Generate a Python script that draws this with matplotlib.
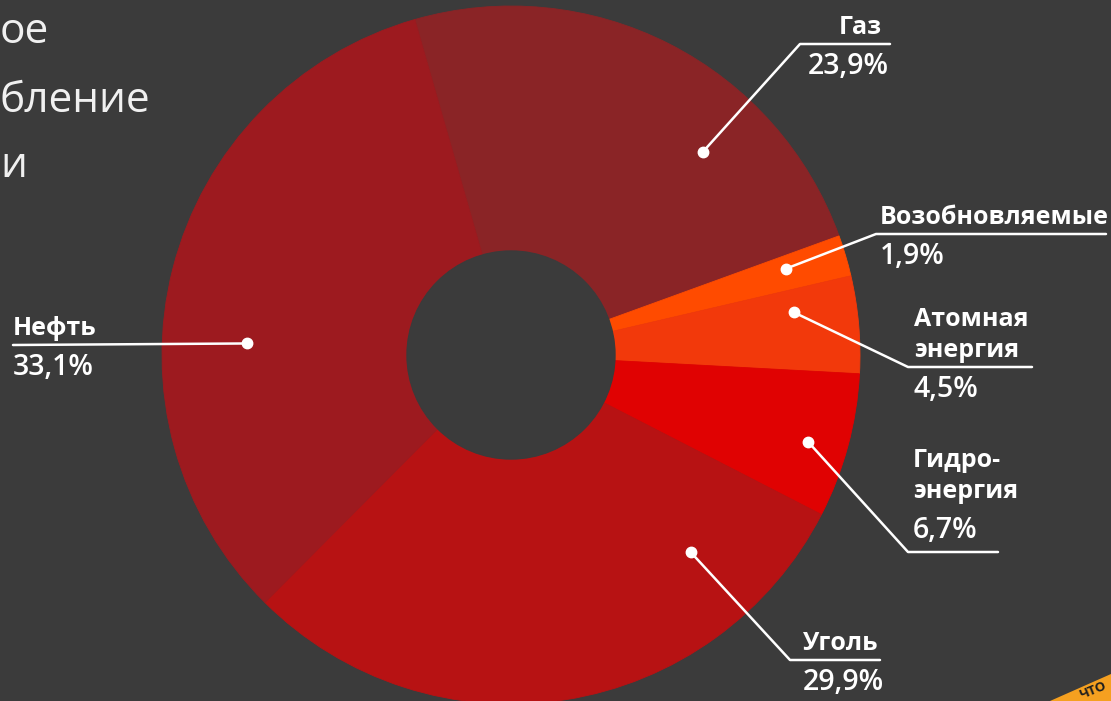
import numpy as np
import matplotlib.pyplot as plt
from matplotlib.patches import Circle, Polygon

# data (clockwise from the top)
categories = [['Газ'], ['Возобновляемые'], ['Атомная', 'энергия'], ['Гидро-', 'энергия'], ['Уголь'], ['Нефть']]
shares = [23.9, 1.9, 4.5, 6.7, 29.9, 33.1]
share_labels = ['23,9%', '1,9%', '4,5%', '6,7%', '29,9%', '33,1%']
colors = ['#8a2426', '#ff4b00', '#f2390b', '#e00202', '#b71213', '#9d1a1f']
title_parts = ['ое', 'бление', 'и']   # what is left of the title at the left edge

W, H = 1111, 701
BG = '#3b3b3b'
FONT = ['Open Sans', 'DejaVu Sans']

fig = plt.figure(figsize=(W / 100, H / 100), dpi=100, facecolor=BG)
ax = fig.add_axes([0, 0, 1, 1])
ax.set_facecolor(BG)

def Y(y):
    # picture rows count from the top
    return H - y

cx, cy, R, r_in = 511, Y(355), 349, 104

wedges, _ = ax.pie(shares, colors=colors, startangle=106, counterclock=False,
                   center=(cx, cy), radius=R, frame=True,
                   wedgeprops=dict(width=R - r_in, linewidth=0.6))
for w, c in zip(wedges, colors):
    w.set_edgecolor(c)
ax.add_patch(Circle((cx, cy), r_in, color=BG, zorder=3))

ax.set_xlim(0, W)
ax.set_ylim(0, H)
ax.set_aspect('equal')
ax.axis('off')

# leader layout: dot inside the wedge (t along the arc, radius), elbow, end of underline,
# text x and alignment, whether the percentage sits under the line
layout = [
    dict(t=0.69, rr=279, elbow=(800, 44), end=890, tx=882, ptx=889, ha='right', below=True),
    dict(t=0.37, rr=288, elbow=(876, 234), end=1106, tx=880, ptx=880, ha='left', below=True),
    dict(t=0.28, rr=286, elbow=(908, 367), end=1032, tx=914, ptx=914, ha='left', below=True),
    dict(t=0.55, rr=310, elbow=(908, 552), end=998, tx=913, ptx=913, ha='left', below=False),
    dict(t=0.19, rr=267, elbow=(790, 660), end=880, tx=803, ptx=803, ha='left', below=True),
    dict(t=0.40, rr=264, elbow=(13, 345), end=13, tx=13, ptx=13, ha='left', below=True),
]

name_kw = dict(color='white', fontsize=18, fontweight='bold', family=FONT, va='baseline', zorder=6)
pct_kw = dict(color='white', fontsize=20.5, fontweight='semibold', family=FONT, va='baseline', zorder=6)
LINE_GAP = 31

for w, lines, pct, lay in zip(wedges, categories, share_labels, layout):
    ang = np.deg2rad(w.theta2 - lay['t'] * (w.theta2 - w.theta1))
    dx = cx + lay['rr'] * np.cos(ang)
    dy = cy + lay['rr'] * np.sin(ang)
    ex, ey = lay['elbow']
    ey = Y(ey)
    ax.plot([dx, ex, lay['end']], [dy, ey, ey], color='white', lw=1.8,
            solid_capstyle='round', solid_joinstyle='round', zorder=5)
    ax.plot(dx, dy, 'o', color='white', ms=7.5, zorder=6)
    if lay['below']:
        base = ey + 10
        ax.text(lay['ptx'], ey - 30, pct, ha=lay['ha'], **pct_kw)
    else:
        ax.text(lay['ptx'], ey + 14, pct, ha=lay['ha'], **pct_kw)
        base = ey + 54
    for i, line in enumerate(reversed(lines)):
        ax.text(lay['tx'], base + i * LINE_GAP, line, ha=lay['ha'], **name_kw)

# title, cut by the left edge in the picture
for part, yb in zip(title_parts, [43, 112, 177]):
    ax.text(0, Y(yb), part, ha='left', va='baseline', color='#f0f0f0',
            fontsize=30.5, family=FONT)

# source tag in the corner
ax.add_patch(Polygon([(1050, Y(701)), (1111, Y(674)), (1111, Y(730)), (1060, Y(730))],
                     closed=True, fc='#f5a020', ec='none', zorder=4))
ax.text(1093, Y(691), 'ЧТО', ha='center', va='center', rotation=22, color='#1e1e1e',
        fontsize=9.5, fontweight='bold', family=FONT, zorder=5)

fig.savefig('out.png', dpi=100, facecolor=BG)
